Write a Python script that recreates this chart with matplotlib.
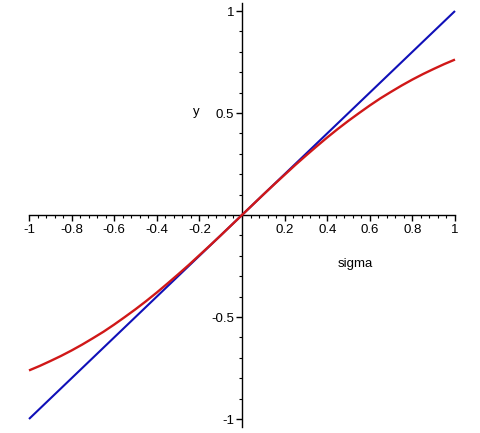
import matplotlib
matplotlib.use("Agg")
import matplotlib.pyplot as plt
from matplotlib.ticker import FixedLocator

plt.rcParams['font.family'] = ['Liberation Sans', 'DejaVu Sans']

sigma = [-1.0, -0.95, -0.9, -0.85, -0.8, -0.75, -0.7, -0.65, -0.6, -0.55, -0.5,
         -0.45, -0.4, -0.35, -0.3, -0.25, -0.2, -0.15, -0.1, -0.05, 0.0,
         0.05, 0.1, 0.15, 0.2, 0.25, 0.3, 0.35, 0.4, 0.45, 0.5,
         0.55, 0.6, 0.65, 0.7, 0.75, 0.8, 0.85, 0.9, 0.95, 1.0]
y_line = list(sigma)
y_curve = [-0.762, -0.740, -0.716, -0.691, -0.664, -0.635, -0.604, -0.572, -0.537, -0.500, -0.462,
           -0.422, -0.380, -0.336, -0.291, -0.245, -0.197, -0.149, -0.100, -0.050, 0.0,
           0.050, 0.100, 0.149, 0.197, 0.245, 0.291, 0.336, 0.380, 0.422, 0.462,
           0.500, 0.537, 0.572, 0.604, 0.635, 0.664, 0.691, 0.716, 0.740, 0.762]
xticks = [-1, -0.8, -0.6, -0.4, -0.2, 0.2, 0.4, 0.6, 0.8, 1]
xticklabels = ["-1", "-0.8", "-0.6", "-0.4", "-0.2", "0.2", "0.4", "0.6", "0.8", "1"]
yticks = [-1, -0.5, 0.5, 1]
yticklabels = ["-1", "-0.5", "0.5", "1"]

fig = plt.figure(figsize=(4.81, 4.33), dpi=100)
ax = fig.add_axes([0, 0, 1, 1])
ax.set_xlim(-1 - 29/213, 1 + 26/213)
ax.set_ylim(-1 - 14/204, 1 + 11/204)

ax.plot(sigma, y_line, color='#1010b8', lw=1.5, solid_capstyle='butt', zorder=3)
ax.plot(sigma, y_curve, color='#d01818', lw=1.7, solid_capstyle='butt', zorder=4)

for s in ['top', 'right']:
    ax.spines[s].set_visible(False)
ax.spines['left'].set_position(('data', 0))
ax.spines['bottom'].set_position(('data', 0))
ax.spines['left'].set_bounds(-1.04, 1.04)
ax.spines['bottom'].set_bounds(-1, 1)
for s in ['left', 'bottom']:
    ax.spines[s].set_linewidth(1.0)
    ax.spines[s].set_color('black')

ax.xaxis.set_major_locator(FixedLocator(xticks))
ax.set_xticklabels(xticklabels)
ax.yaxis.set_major_locator(FixedLocator(yticks))
ax.set_yticklabels(yticklabels)
ax.xaxis.set_minor_locator(FixedLocator([-1 + 0.04 * i for i in range(51)]))
ax.yaxis.set_minor_locator(FixedLocator([-1 + 0.1 * i for i in range(21)]))

ax.tick_params(axis='both', which='major', direction='out', length=4, width=1,
               labelsize=9.5, pad=1.5)
ax.tick_params(axis='x', which='major', pad=2.5)
ax.tick_params(axis='both', which='minor', direction='out', length=2, width=0.8)

ax.text(0.53, -0.24, "sigma", fontsize=9.5, ha='center', va='center')
ax.text(-0.215, 0.505, "y", fontsize=9.5, ha='center', va='center')

fig.savefig("out.png", dpi=100)
